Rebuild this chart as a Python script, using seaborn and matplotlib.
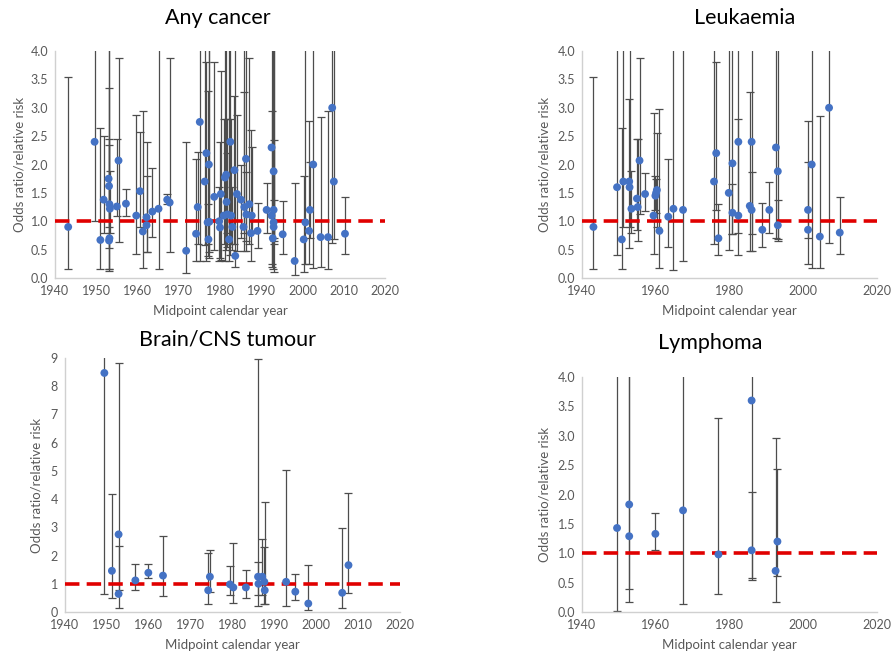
import matplotlib
matplotlib.use("Agg")
import matplotlib.pyplot as plt
import seaborn as sns
import pandas as pd
import numpy as np

# ---------------- data ----------------
# Any cancer
any_year = [1943.2, 1949.6, 1951.0, 1951.8, 1953.0, 1953.1, 1953.2, 1953.3, 1953.2, 1953.1,
            1955.4, 1955.0, 1957.2, 1959.7, 1960.6, 1961.3, 1962.2, 1962.2, 1963.6, 1965.1,
            1967.2, 1967.8, 1971.8, 1974.2, 1974.6, 1975.1, 1976.3, 1976.7, 1977.0, 1977.2,
            1977.3, 1977.4, 1978.6, 1979.8, 1980.0, 1980.2, 1980.9, 1981.2, 1981.5, 1981.6,
            1981.8, 1982.2, 1982.5, 1982.7, 1983.0, 1983.5, 1983.7, 1984.1, 1985.1, 1985.7,
            1985.9, 1986.3, 1986.4, 1987.1, 1987.5, 1987.7, 1989.1, 1991.3, 1992.5, 1992.5,
            1992.8, 1993.0, 1993.0, 1993.0, 1993.0, 1995.2, 1998.1, 2000.3, 2000.7, 2001.6,
            2001.8, 2002.6, 2004.4, 2006.2, 2007.2, 2007.6, 2010.3]
any_or = [0.90, 2.40, 0.67, 1.38, 1.75, 1.62, 1.30, 1.22, 0.70, 0.66,
          2.07, 1.26, 1.31, 1.10, 1.53, 0.82, 1.07, 0.93, 1.17, 1.22,
          1.38, 1.33, 0.48, 0.78, 1.25, 2.75, 1.70, 2.20, 0.98, 0.68,
          2.00, 0.99, 1.43, 1.00, 0.89, 1.48, 1.10, 1.77, 1.82, 1.34,
          1.12, 0.68, 2.40, 1.10, 0.90, 1.90, 0.39, 1.48, 1.38, 0.90,
          1.25, 2.10, 1.12, 1.30, 0.79, 1.10, 0.83, 1.20, 2.30, 1.10,
          0.70, 1.20, 1.88, 0.98, 0.90, 0.77, 0.30, 0.68, 0.98, 0.83,
          1.20, 2.00, 0.72, 0.72, 3.00, 1.70, 0.78]
any_lo = [0.15, 1.00, 0.15, 0.80, 0.90, 0.52, 0.15, 0.80, 0.12, 0.15,
          0.63, 1.10, 1.10, 0.43, 0.90, 0.18, 0.45, 0.45, 0.72, 0.15,
          1.30, 0.45, 0.08, 0.30, 0.60, 0.30, 0.58, 0.30, 0.60, 0.38,
          0.35, 0.45, 0.50, 0.30, 0.35, 0.32, 0.60, 0.30, 0.50, 0.80,
          0.55, 0.30, 0.40, 0.60, 0.50, 0.60, 0.20, 0.48, 0.70, 0.48,
          0.80, 0.48, 0.65, 0.60, 0.30, 0.80, 0.53, 0.80, 0.20, 0.25,
          0.15, 0.60, 0.65, 0.10, 0.70, 0.43, 0.05, 0.10, 0.25, 0.25,
          0.70, 0.18, 0.20, 0.15, 0.62, 0.68, 0.43]
any_hi = [3.55, 6.00, 2.65, 2.50, 3.35, 6.00, 2.35, 1.88, 6.00, 2.45,
          3.88, 2.45, 1.57, 2.88, 2.57, 2.95, 2.40, 1.80, 1.93, 6.00,
          1.48, 3.87, 2.40, 2.10, 2.22, 6.00, 6.00, 3.80, 1.30, 3.30,
          6.00, 6.00, 3.80, 1.60, 2.40, 3.65, 2.80, 6.00, 6.00, 2.80,
          2.20, 6.00, 6.00, 2.80, 1.60, 3.20, 6.00, 2.88, 2.00, 3.28,
          6.00, 6.00, 1.87, 3.88, 2.60, 2.30, 1.32, 1.68, 6.00, 2.95,
          6.00, 2.43, 6.00, 6.00, 1.37, 1.35, 1.67, 1.80, 6.00, 2.77,
          2.05, 6.00, 2.83, 2.95, 6.00, 6.00, 1.42]

# Leukaemia
leu_year = [1943.1, 1949.5, 1950.8, 1951.2, 1952.8, 1952.9, 1953.4, 1954.9, 1955.1, 1955.6,
            1957.1, 1959.4, 1959.9, 1960.1, 1960.3, 1961.0, 1963.4, 1964.8, 1967.4, 1975.8,
            1976.4, 1977.0, 1979.8, 1980.8, 1980.8, 1982.4, 1982.4, 1985.5, 1986.0, 1986.0,
            1988.9, 1990.8, 1992.6, 1993.1, 1993.1, 2001.3, 2001.3, 2002.3, 2004.5, 2007.0,
            2009.9]
leu_or = [0.90, 1.60, 0.68, 1.70, 1.70, 1.60, 1.22, 1.40, 1.25, 2.07,
          1.48, 1.10, 1.45, 1.50, 1.55, 0.83, 1.08, 1.22, 1.20, 1.70,
          2.20, 0.70, 1.50, 2.02, 1.15, 2.40, 1.10, 1.27, 2.40, 1.20,
          0.85, 1.20, 2.30, 1.88, 0.93, 1.20, 0.85, 2.00, 0.73, 3.00,
          0.80]
leu_lo = [0.15, 0.40, 0.15, 0.90, 0.52, 0.90, 0.80, 0.85, 0.65, 1.13,
          1.18, 0.43, 1.20, 1.15, 0.90, 0.18, 0.54, 0.14, 0.30, 0.60,
          1.20, 0.40, 0.50, 0.78, 0.78, 0.40, 0.80, 0.47, 0.48, 0.78,
          0.54, 0.80, 0.70, 0.65, 0.68, 0.25, 0.70, 0.18, 0.18, 0.62,
          0.43]
leu_hi = [3.55, 6.00, 2.65, 6.00, 3.15, 6.00, 1.88, 2.45, 2.45, 3.87,
          1.85, 2.90, 1.80, 1.75, 2.55, 2.97, 2.10, 6.00, 6.00, 6.00,
          3.80, 1.30, 6.00, 6.00, 1.65, 6.00, 2.80, 3.28, 6.00, 1.87,
          1.33, 1.70, 6.00, 6.00, 1.37, 2.77, 2.05, 6.00, 2.85, 6.00,
          1.42]

# Brain/CNS tumour
brn_year = [1949.4, 1951.2, 1952.8, 1952.8, 1956.8, 1959.9, 1963.4, 1974.2, 1974.6, 1979.4,
            1980.2, 1983.2, 1986.1, 1986.2, 1987.1, 1987.6, 1987.7, 1992.8, 1995.0, 1998.1,
            2006.2, 2007.7]
brn_or = [8.47, 1.46, 2.75, 0.64, 1.12, 1.39, 1.29, 0.77, 1.25, 0.98,
          0.87, 0.87, 1.25, 1.00, 1.25, 1.07, 0.77, 1.07, 0.72, 0.30,
          0.68, 1.66]
brn_lo = [0.65, 0.50, 0.77, 0.13, 0.77, 1.20, 0.58, 0.27, 0.70, 0.60,
          0.32, 0.48, 0.20, 0.60, 0.60, 0.27, 0.30, 0.23, 0.43, 0.07,
          0.15, 0.68]
brn_hi = [12.0, 4.17, 8.83, 2.33, 1.70, 1.70, 2.70, 2.10, 2.20, 1.62,
          2.43, 1.48, 8.98, 1.77, 2.60, 2.30, 3.90, 5.03, 1.33, 1.65,
          2.97, 4.22]

# Lymphoma
lym_year = [1949.5, 1952.8, 1952.8, 1959.9, 1967.4, 1977.0, 1986.0, 1986.0, 1992.5, 1993.0]
lym_or = [1.43, 1.83, 1.29, 1.33, 1.73, 0.98, 3.60, 1.05, 0.70, 1.20]
lym_lo = [0.01, 0.17, 0.39, 1.05, 0.13, 0.30, 0.55, 0.58, 0.17, 0.62]
lym_hi = [6.00, 6.00, 6.00, 1.68, 6.00, 3.30, 6.00, 2.05, 2.97, 2.43]

panels = [
    dict(title="Any cancer", year=any_year, val=any_or, lo=any_lo, hi=any_hi,
         box=(55, 51, 385, 278), ymax=4.0, ystep=0.5, fmt="{:.1f}", xstep=10,
         tpos=(218, 18), ylab_x=20),
    dict(title="Leukaemia", year=leu_year, val=leu_or, lo=leu_lo, hi=leu_hi,
         box=(582, 51, 877, 278), ymax=4.0, ystep=0.5, fmt="{:.1f}", xstep=20,
         tpos=(745, 18), ylab_x=545),
    dict(title="Brain/CNS tumour", year=brn_year, val=brn_or, lo=brn_lo, hi=brn_hi,
         box=(65, 358, 400, 612), ymax=9, ystep=1, fmt="{:.0f}", xstep=10,
         tpos=(228, 340), ylab_x=37),
    dict(title="Lymphoma", year=lym_year, val=lym_or, lo=lym_lo, hi=lym_hi,
         box=(582, 377, 877, 612), ymax=4.0, ystep=0.5, fmt="{:.1f}", xstep=20,
         tpos=(710, 343), ylab_x=545),
]

# ---------------- plot ----------------
sns.set_theme(style="white")
plt.rcParams['font.family'] = ['Lato', 'DejaVu Sans']

W, H = 895, 658
fig = plt.figure(figsize=(W / 100, H / 100), dpi=100)
fig.patch.set_facecolor("white")

gray = "#595959"
for p in panels:
    l, t, r, b = p["box"]
    ax = fig.add_axes([l / W, 1 - b / H, (r - l) / W, (b - t) / H])
    df = pd.DataFrame({"year": p["year"], "val": p["val"], "lo": p["lo"], "hi": p["hi"]})
    ax.errorbar(df["year"], df["val"],
                yerr=[df["val"] - df["lo"], df["hi"] - df["val"]],
                fmt="none", ecolor="#4d4d4d", elinewidth=0.9, capsize=3, capthick=0.9,
                zorder=2)
    ax.axhline(1.0, color="#E00000", lw=2.6, ls=(0, (4, 2)), zorder=3)
    sns.scatterplot(data=df, x="year", y="val", ax=ax, color="#4472C4", s=32,
                    edgecolor="none", zorder=4, legend=False)
    ax.set_xlim(1940, 2020)
    ax.set_ylim(0, p["ymax"])
    xt = np.arange(1940, 2021, p["xstep"])
    ax.set_xticks(xt)
    ax.set_xticklabels([str(v) for v in xt])
    yt = np.arange(0, p["ymax"] + 1e-9, p["ystep"])
    ax.set_yticks(yt)
    ax.set_yticklabels([p["fmt"].format(v) for v in yt])
    ax.tick_params(axis="both", length=0, labelsize=9, labelcolor=gray, pad=5)
    for s in ["top", "right"]:
        ax.spines[s].set_visible(False)
    for s in ["left", "bottom"]:
        ax.spines[s].set_color("#D0D0D0")
        ax.spines[s].set_linewidth(1.0)
    ax.set_xlabel("Midpoint calendar year", fontsize=9.5, color=gray, labelpad=6)
    ax.set_ylabel("")
    ymid = (t + b) / 2
    fig.text(p["ylab_x"] / W, 1 - ymid / H, "Odds ratio/relative risk", rotation=90,
             ha="center", va="center", fontsize=9.5, color=gray)
    fig.text(p["tpos"][0] / W, 1 - p["tpos"][1] / H, p["title"], ha="center",
             va="center", fontsize=15.5, color="black")

fig.savefig("out.png", dpi=100, facecolor="white")
